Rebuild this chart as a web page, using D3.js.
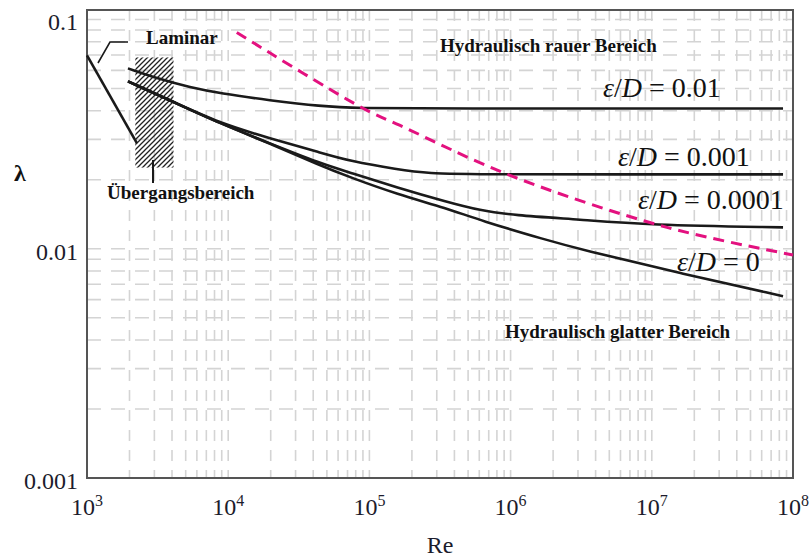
<!DOCTYPE html>
<html><head><meta charset="utf-8">
<script src="https://cdn.jsdelivr.net/npm/d3@7"></script>
<style>html,body{margin:0;padding:0;background:#fff}svg{display:block}</style>
</head><body>
<svg id="chart" width="811" height="557"></svg>
<script>
// ---- data ----
const reTicks = [1e3, 1e4, 1e5, 1e6, 1e7, 1e8];
const reTickExp = ["3", "4", "5", "6", "7", "8"];
const lamTicks = [0.001, 0.01, 0.1];
const lamTickLabels = ["0.001", "0.01", "0.1"];

const laminarRe = [1000, 2260];
const laminarLam = [0.0697, 0.0288];

const rough001Re = [1950, 3290, 5360, 8750, 19770, 44700, 85700, 2.4e5, 8.5e7];
const rough001Lam = [0.0612, 0.0548, 0.0506, 0.0476, 0.0444, 0.0418, 0.0410, 0.0409, 0.0409];

const rough0001Re = [1950, 3870, 8750, 19770, 44700, 72900, 1.57e5, 2.69e5, 5.16e5, 8.5e7];
const rough0001Lam = [0.0537, 0.0444, 0.0352, 0.0303, 0.0263, 0.0241, 0.0222, 0.0213, 0.0211, 0.0211];

const rough00001Re = [1950, 3870, 8750, 19770, 44700, 72900, 1.57e5, 3.55e5, 6.07e5, 1.04e6, 3.1e6, 9.25e6, 8.5e7];
const rough00001Lam = [0.0537, 0.0444, 0.0352, 0.0288, 0.0236, 0.0215, 0.0185, 0.0160, 0.0147, 0.0140, 0.0134, 0.0127, 0.0124];

const smoothRe = [1950, 3870, 8750, 19770, 44700, 72900, 1.57e5, 3.55e5, 6.07e5, 1.81e6, 3.1e6, 1.58e7, 8.5e7];
const smoothLam = [0.0537, 0.0444, 0.0352, 0.0288, 0.0231, 0.0205, 0.0173, 0.0150, 0.0133, 0.0109, 0.00995, 0.00782, 0.00621];

const boundaryRe = [1.15e4, 9.0e4, 1.65e5, 9.9e5, 1.28e7, 1e8];
const boundaryLam = [0.0878, 0.0410, 0.0345, 0.0209, 0.0124, 0.0094];

const transitionRe = [2200, 4100];
const transitionLam = [0.0226, 0.0683];

const roughnessLabels = ["0.01", "0.001", "0.0001", "0"];

// ---- chart ----
const svg = d3.select("#chart");
const x = d3.scaleLog().domain([1e3, 1e8]).range([87, 793]);
const y = d3.scaleLog().domain([0.001, 0.11]).range([478, 10]);
const serif = "'Liberation Serif', 'Times New Roman', serif";

// hatch pattern
const defs = svg.append("defs");
defs.append("pattern").attr("id", "hatch").attr("patternUnits", "userSpaceOnUse")
  .attr("width", 5).attr("height", 5)
  .append("path").attr("d", "M-1,1 l2,-2 M0,5 l5,-5 M4,6 l2,-2")
  .attr("stroke", "#222").attr("stroke-width", 1.3);

// grid
const minorX = [];
for (let k = 3; k < 8; k++) for (let i = 2; i <= 9; i++) minorX.push(i * Math.pow(10, k));
const minorY = [];
for (let k = -3; k < -1; k++) for (let i = 2; i <= 9; i++) minorY.push(i * Math.pow(10, k));
minorY.push(0.01, 0.1);
const g = svg.append("g");
g.selectAll(".vg").data(minorX.concat([1e4, 1e5, 1e6, 1e7])).join("line")
  .attr("x1", d => x(d)).attr("x2", d => x(d)).attr("y1", y(0.11)).attr("y2", y(0.001))
  .attr("stroke", "#d4d4d4").attr("stroke-width", 1.6).attr("stroke-dasharray", "11,9");
g.selectAll(".hg").data(minorY).join("line")
  .attr("x1", x(1e3)).attr("x2", x(1e8)).attr("y1", d => y(d)).attr("y2", d => y(d))
  .attr("stroke", "#d4d4d4").attr("stroke-width", 1.6).attr("stroke-dasharray", "14,10");

// transition hatch
svg.append("rect")
  .attr("x", x(transitionRe[0])).attr("y", y(transitionLam[1]))
  .attr("width", x(transitionRe[1]) - x(transitionRe[0]))
  .attr("height", y(transitionLam[0]) - y(transitionLam[1]))
  .attr("fill", "url(#hatch)");

// frame
svg.append("rect").attr("x", x(1e3)).attr("y", y(0.11))
  .attr("width", x(1e8) - x(1e3)).attr("height", y(0.001) - y(0.11))
  .attr("fill", "none").attr("stroke", "#555").attr("stroke-width", 2);

// curves
const line = d3.line().x(d => x(d[0])).y(d => y(d[1])).curve(d3.curveBasis);
const zip = (a, b) => a.map((v, i) => [v, b[i]]);
const curves = [
  zip(laminarRe, laminarLam),
  zip(rough001Re, rough001Lam),
  zip(rough0001Re, rough0001Lam),
  zip(rough00001Re, rough00001Lam),
  zip(smoothRe, smoothLam)
];
svg.selectAll(".curve").data(curves).join("path")
  .attr("d", line).attr("fill", "none").attr("stroke", "#1a1a1a")
  .attr("stroke-width", 2.6).attr("stroke-linejoin", "round");

const dashLine = d3.line().x(d => x(d[0])).y(d => y(d[1])).curve(d3.curveCatmullRom.alpha(0.5));
svg.append("path").datum(zip(boundaryRe, boundaryLam))
  .attr("d", dashLine).attr("fill", "none").attr("stroke", "#e3117f")
  .attr("stroke-width", 3).attr("stroke-dasharray", "11,7");

// leader lines
svg.append("path").attr("d", "M98,63 L110,42 L128,42").attr("fill", "none")
  .attr("stroke", "#1a1a1a").attr("stroke-width", 1.6);
svg.append("path").attr("d", "M153,160 L153,183").attr("fill", "none")
  .attr("stroke", "#1a1a1a").attr("stroke-width", 2);

// bold annotations
const notes = [
  {t: "Laminar", x: 146, y: 44},
  {t: "Übergangsbereich", x: 107, y: 199},
  {t: "Hydraulisch rauer Bereich", x: 440, y: 52},
  {t: "Hydraulisch glatter Bereich", x: 505, y: 338}
];
svg.selectAll(".note").data(notes).join("text")
  .attr("x", d => d.x).attr("y", d => d.y).text(d => d.t)
  .attr("font-family", serif).attr("font-weight", "bold").attr("font-size", 19)
  .attr("fill", "#111");

// roughness labels
const rPos = [{x: 603, y: 97}, {x: 618, y: 166}, {x: 638, y: 209}, {x: 677, y: 271}];
roughnessLabels.forEach((v, i) => {
  const t = svg.append("text").attr("x", rPos[i].x).attr("y", rPos[i].y)
    .attr("font-family", serif).attr("font-size", 28).attr("fill", "#111");
  t.append("tspan").attr("font-style", "italic").text("ε");
  t.append("tspan").text("/");
  t.append("tspan").attr("font-style", "italic").text("D");
  t.append("tspan").text(" = " + v);
});

// y tick labels
svg.selectAll(".yl").data(lamTicks).join("text")
  .attr("x", 78).attr("y", d => y(d) + 11).attr("text-anchor", "end")
  .attr("font-family", serif).attr("font-size", 24).attr("fill", "#1c1c2c")
  .text((d, i) => lamTickLabels[i]);

// x tick labels
reTicks.forEach((d, i) => {
  const t = svg.append("text").attr("x", x(d)).attr("y", 515).attr("text-anchor", "middle")
    .attr("font-family", serif).attr("font-size", 24).attr("fill", "#1c1c2c");
  t.append("tspan").text("10");
  t.append("tspan").attr("font-size", 16).attr("dy", -9).text(reTickExp[i]);
});

// axis titles
svg.append("text").attr("x", 440).attr("y", 553).attr("text-anchor", "middle")
  .attr("font-family", serif).attr("font-size", 24).attr("fill", "#1c1c2c").text("Re");
svg.append("text").attr("x", 20).attr("y", 181).attr("text-anchor", "middle")
  .attr("font-family", serif).attr("font-weight", "bold").attr("font-size", 24).attr("fill", "#111").text("λ");
</script>
</body></html>
